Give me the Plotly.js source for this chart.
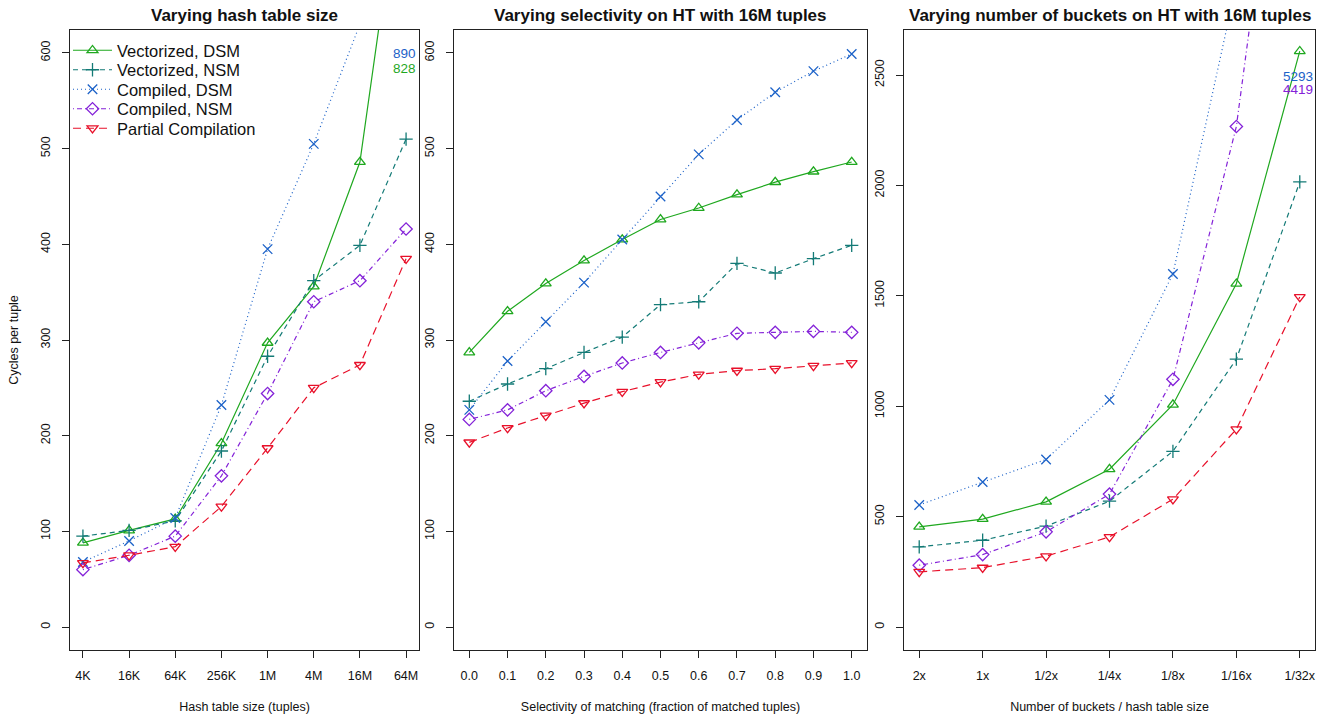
<!DOCTYPE html>
<html>
<head>
<meta charset="utf-8">
<script src="https://cdn.plot.ly/plotly-3.0.1.min.js"></script>
<style>html,body{margin:0;padding:0;background:#fff;}#chart{width:1335px;height:718px;}</style>
</head>
<body>
<div id="chart"></div>
<script>
// ---- Panel 1: varying hash table size ----
var htSizes = ['4K','16K','64K','256K','1M','4M','16M','64M'];
var htVecDSM  = [88, 101, 113, 192, 297, 356, 486, 828];
var htVecNSM  = [95, 101, 111, 184, 283, 362, 399, 510];
var htCompDSM = [68, 90, 114, 232, 395, 505, 630, 890];
var htCompNSM = [60, 75, 95, 158, 244, 340, 362, 416];
var htPartial = [67, 75, 84, 126, 187, 250, 274, 385];

// ---- Panel 2: varying selectivity ----
var selectivity = [0.0, 0.1, 0.2, 0.3, 0.4, 0.5, 0.6, 0.7, 0.8, 0.9, 1.0];
var selVecDSM  = [287, 330, 359, 383, 405, 426, 438, 452, 465, 476, 486];
var selVecNSM  = [236, 254, 270, 287, 303, 337, 340, 380, 370, 385, 399];
var selCompDSM = [227, 278, 319, 360, 405, 450, 494, 530, 559, 581, 599];
var selCompNSM = [217, 227, 247, 262, 276, 287, 297, 307, 308, 309, 308];
var selPartial = [193, 208, 221, 234, 246, 256, 264, 268, 270, 273, 276];

// ---- Panel 3: varying number of buckets ----
var buckets = ['2x','1x','1/2x','1/4x','1/8x','1/16x','1/32x'];
var bkVecDSM  = [454, 489, 567, 715, 1007, 1555, 2608];
var bkVecNSM  = [363, 393, 457, 570, 796, 1213, 2016];
var bkCompDSM = [553, 657, 759, 1029, 1599, 2910, 5293];
var bkCompNSM = [280, 328, 431, 602, 1122, 2267, 4419];
var bkPartial = [250, 269, 321, 408, 579, 896, 1495];

var seriesNames = ['Vectorized, DSM','Vectorized, NSM','Compiled, DSM','Compiled, NSM','Partial Compilation'];
var yTicks12 = [0, 100, 200, 300, 400, 500, 600];
var yTicks3 = [0, 500, 1000, 1500, 2000, 2500];
var selTickText = selectivity.map(function(v){return v.toFixed(1);});

var styles = [
  {color:'#1fa81f', dash:'solid', symbol:'triangle-up-open'},
  {color:'#137a76', dash:'5px,4px', symbol:'cross-thin-open'},
  {color:'#1c62c8', dash:'1px,3px', symbol:'x-thin-open'},
  {color:'#8422d8', dash:'1px,3px,5px,3px', symbol:'diamond-open'},
  {color:'#e8102a', dash:'8px,5px', symbol:'triangle-down-open'}
];

var panels = [
  {x: htSizes, ys: [htVecDSM, htVecNSM, htCompDSM, htCompNSM, htPartial], xa:'x', ya:'y'},
  {x: selectivity, ys: [selVecDSM, selVecNSM, selCompDSM, selCompNSM, selPartial], xa:'x2', ya:'y2'},
  {x: buckets, ys: [bkVecDSM, bkVecNSM, bkCompDSM, bkCompNSM, bkPartial], xa:'x3', ya:'y3'}
];

var legendIds = ['legend','legend2','legend3','legend4','legend5'];

var traces = [];
panels.forEach(function(p, pi){
  p.ys.forEach(function(ys, si){
    var st = styles[si];
    traces.push({
      type:'scatter', mode:'lines+markers',
      x: p.x, y: ys, xaxis: p.xa, yaxis: p.ya,
      name: seriesNames[si], legend: legendIds[si], showlegend: pi === 0,
      line: {color: st.color, width: 1.2, dash: st.dash},
      marker: {symbol: st.symbol, size: 9.5, color: st.color, line: {color: st.color, width: 1.3}},
      cliponaxis: true
    });
  });
});

var W = 1335, H = 718;
var yDom = [(H-650)/H, (H-30)/H];
var FONT = 'Liberation Sans, Arial, Helvetica, sans-serif';

function baseAxis(extra){
  var a = {
    showline:true, mirror:true, linecolor:'#222', linewidth:1,
    ticks:'outside', ticklen:7, tickwidth:1, tickcolor:'#222',
    showgrid:false, zeroline:false, ticklabelstandoff:7,
    tickfont:{family:FONT, size:12.5, color:'#111'}
  };
  for (var k in extra) a[k] = extra[k];
  return a;
}

var layout = {
  width: W, height: H,
  margin: {l:0, r:0, t:0, b:0},
  paper_bgcolor:'#ffffff', plot_bgcolor:'#ffffff',
  font: {family: FONT, color:'#111'},
  showlegend: true,
  xaxis: baseAxis({domain:[70/W, 419/W], anchor:'y', type:'category', range:[-0.28, 7.28],
    title:{text:'Hash table size (tuples)', font:{family:FONT, size:12.5}, standoff:20}}),
  yaxis: baseAxis({domain:yDom, anchor:'x', range:[-24, 624], tickvals:yTicks12, tickangle:-90,
    title:{text:'Cycles per tuple', font:{family:FONT, size:12.5}, standoff:17}}),
  xaxis2: baseAxis({domain:[454/W, 867/W], anchor:'y2', range:[-0.04, 1.04], tickvals:selectivity, ticktext:selTickText,
    title:{text:'Selectivity of matching (fraction of matched tuples)', font:{family:FONT, size:12.5}, standoff:20}}),
  yaxis2: baseAxis({domain:yDom, anchor:'x2', range:[-24, 624], tickvals:yTicks12, tickangle:-90}),
  xaxis3: baseAxis({domain:[904/W, 1315/W], anchor:'y3', type:'category', range:[-0.24, 6.24],
    title:{text:'Number of buckets / hash table size', font:{family:FONT, size:12.5}, standoff:20}}),
  yaxis3: baseAxis({domain:yDom, anchor:'x3', range:[-104, 2704], tickvals:yTicks3, tickangle:-90}),
  annotations: [
    {text:'Varying hash table size', xref:'x domain', yref:'paper', x:0.5, y:1-15/H, xanchor:'center', yanchor:'middle', showarrow:false, font:{family:FONT, size:17, weight:'bold', color:'#111'}},
    {text:'Varying selectivity on HT with 16M tuples', xref:'x2 domain', yref:'paper', x:0.5, y:1-15/H, xanchor:'center', yanchor:'middle', showarrow:false, font:{family:FONT, size:17, weight:'bold', color:'#111'}},
    {text:'Varying number of buckets on HT with 16M tuples', xref:'x3 domain', yref:'paper', x:0.5, y:1-15/H, xanchor:'center', yanchor:'middle', showarrow:false, font:{family:FONT, size:17, weight:'bold', color:'#111'}},
    {text:String(htCompDSM[7]), xref:'x domain', yref:'y domain', x:1, y:1-23/620, xanchor:'right', yanchor:'middle', xshift:-1, showarrow:false, font:{family:FONT, size:13.5, color:styles[2].color}},
    {text:String(htVecDSM[7]), xref:'x domain', yref:'y domain', x:1, y:1-38/620, xanchor:'right', yanchor:'middle', xshift:-1, showarrow:false, font:{family:FONT, size:13.5, color:styles[0].color}},
    {text:String(bkCompDSM[6]), xref:'x3 domain', yref:'y3 domain', x:1, y:1-46/620, xanchor:'right', yanchor:'middle', showarrow:false, font:{family:FONT, size:13.5, color:styles[2].color}},
    {text:String(bkCompNSM[6]), xref:'x3 domain', yref:'y3 domain', x:1, y:1-59/620, xanchor:'right', yanchor:'middle', showarrow:false, font:{family:FONT, size:13.5, color:styles[3].color}}
  ]
};

// one single-entry legend per series, stacked in the top-left of panel 1
var rowCenters = [50.5, 70, 89.5, 109, 128.5];
legendIds.forEach(function(id, i){
  layout[id] = {x: 68/W, y: 1 - rowCenters[i]/H, xanchor:'left', yanchor:'middle',
    bgcolor:'rgba(0,0,0,0)', borderwidth:0, itemwidth:39,
    font:{family:FONT, size:16.5, color:'#111'}};
});

Plotly.newPlot('chart', traces, layout, {displayModeBar:false, staticPlot:true});
</script>
</body>
</html>
